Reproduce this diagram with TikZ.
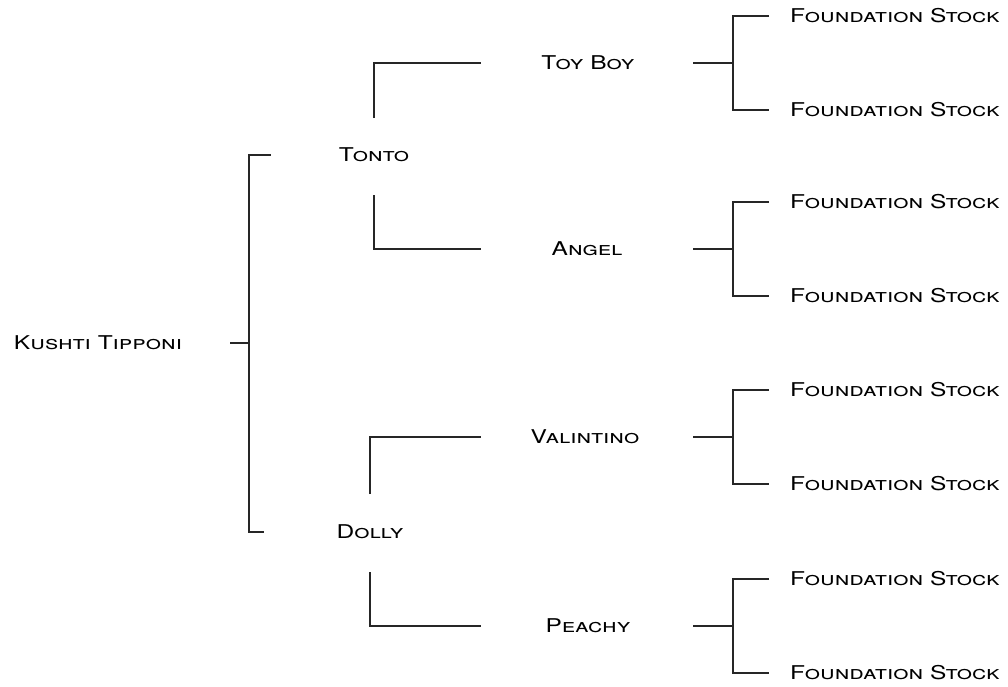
\documentclass[tikz,border=0pt]{standalone}
\usepackage{fontspec}
\newfontfamily\dogfont[FakeStretch=1.29]{TeX Gyre Heros}
\usetikzlibrary{positioning}
\tikzset{
  dog/.style={font=\dogfont\fontsize{19}{22}\selectfont\scshape, inner sep=0pt},
  link/.style={draw=black!85, line width=1.2pt},
}
\begin{document}
\begin{tikzpicture}[x=1pt,y=-1pt]
\useasboundingbox (0,0) rectangle (1008,686);
% the dogs
\node[dog] (kt) at (98,343) {Kushti Tipponi};
\node[dog] (tonto) at (374,155) {Tonto};
\node[dog] (dolly) at (370,532) {Dolly};
\node[dog] (toyboy) at (588,63) {Toy Boy};
\node[dog] (angel) at (587,249) {Angel};
\node[dog] (valintino) at (585,437) {Valintino};
\node[dog] (peachy) at (588,626) {Peachy};
\coordinate (kt-j) at (249,343);
\coordinate (gen2) at (481,0);
% root bracket
\draw[link] ([xshift=-19pt]kt-j) -- (kt-j);
\draw[link] ([xshift=-68pt]tonto.west) -- (tonto.west -| kt-j) -- (dolly.west -| kt-j) -- ([xshift=-72pt]dolly.west);
% parents of tonto and dolly
\draw[link] ([yshift=37pt]tonto.center) -- (tonto.center |- toyboy) -- (toyboy -| gen2);
\draw[link] ([yshift=-40pt]tonto.center) -- (tonto.center |- angel) -- (angel -| gen2);
\draw[link] ([yshift=38pt]dolly.center) -- (dolly.center |- valintino) -- (valintino -| gen2);
\draw[link] ([yshift=-40pt]dolly.center) -- (dolly.center |- peachy) -- (peachy -| gen2);
% foundation stock
\foreach \p/\y in {toyboy/63, angel/249, valintino/437, peachy/626} {
  \node[dog, anchor=west] (\p-sire) at (790,\y-47) {Foundation Stock};
  \node[dog, anchor=west] (\p-dam) at (790,\y+47) {Foundation Stock};
  \coordinate (\p-j) at (733,\y);
  \draw[link] ([xshift=-40pt]\p-j) -- (\p-j);
  \draw[link] ([xshift=-21pt]\p-sire.west) -- (\p-sire.west -| \p-j) -- (\p-dam.west -| \p-j) -- ([xshift=-21pt]\p-dam.west);
}
\end{tikzpicture}
\end{document}
